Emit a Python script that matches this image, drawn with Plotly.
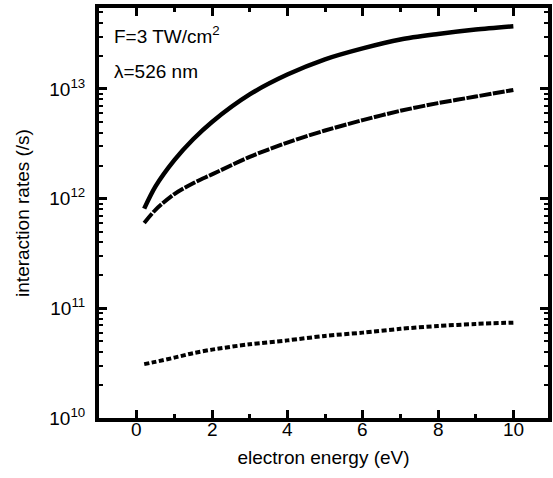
import plotly.graph_objects as go

# electron energy (eV)
energy = [0.2, 0.5, 1.0, 1.5, 2.0, 3.0, 4.0, 5.0, 6.0, 7.0, 8.0, 9.0, 10.0]

# interaction rates (/s) for the three processes
rate_top = [8.1e11, 1.29e12, 2.24e12, 3.47e12, 5.0e12, 8.9e12, 1.35e13,
            1.86e13, 2.34e13, 2.82e13, 3.16e13, 3.47e13, 3.72e13]
rate_mid = [6.0e11, 7.9e11, 1.1e12, 1.38e12, 1.66e12, 2.4e12, 3.24e12,
            4.17e12, 5.19e12, 6.31e12, 7.41e12, 8.51e12, 9.77e12]
rate_low = [3.1e10, 3.25e10, 3.55e10, 3.9e10, 4.2e10, 4.7e10, 5.1e10,
            5.6e10, 6.0e10, 6.5e10, 6.9e10, 7.2e10, 7.4e10]

x_ticks = [0, 2, 4, 6, 8, 10]
x_ticktext = ["0", "2", "4", "6", "8", "10"]
x_minor = [1, 3, 5, 7, 9]
y_ticks = [1e10, 1e11, 1e12, 1e13]
y_ticktext = ["10<sup>10</sup>", "10<sup>11</sup>", "10<sup>12</sup>", "10<sup>13</sup>"]
y_minor = [m * 10.0 ** e for e in range(10, 14) for m in range(2, 10)]

FONT = "Liberation Sans, Arial, Helvetica, sans-serif"
FS = 19

fig = go.Figure()
fig.add_trace(go.Scatter(x=energy, y=rate_top, mode="lines",
                         line=dict(color="black", width=4.5, shape="spline", smoothing=0.8),
                         showlegend=False))
fig.add_trace(go.Scatter(x=energy, y=rate_mid, mode="lines",
                         line=dict(color="black", width=4, dash="12px,1.5px", shape="spline", smoothing=0.8),
                         showlegend=False))
fig.add_trace(go.Scatter(x=energy, y=rate_low, mode="lines",
                         line=dict(color="black", width=4, dash="5px,2.5px", shape="spline", smoothing=0.8),
                         showlegend=False))

# x tick labels sit tight under the inside ticks
for xv, txt in zip(x_ticks, x_ticktext):
    fig.add_annotation(x=xv, y=0, xref="x", yref="paper", xanchor="center", yanchor="top",
                       text=txt, showarrow=False, yshift=1,
                       font=dict(family=FONT, size=FS, color="black"))

fig.add_annotation(x=0.03, y=0.934, xref="paper", yref="paper", xanchor="left", yanchor="middle",
                   text="F=3 TW/cm<sup>2</sup>", showarrow=False,
                   font=dict(family=FONT, size=FS, color="black"))
fig.add_annotation(x=0.03, y=0.846, xref="paper", yref="paper", xanchor="left", yanchor="middle",
                   text="λ=526 nm", showarrow=False,
                   font=dict(family=FONT, size=FS, color="black"))

fig.update_layout(
    width=553, height=478,
    margin=dict(l=99, r=1, t=8, b=60),
    paper_bgcolor="white", plot_bgcolor="white",
    font=dict(family=FONT, size=FS, color="black"),
    xaxis=dict(
        range=[-1, 10.92], tickvals=x_ticks, showticklabels=False,
        ticks="inside", ticklen=8, tickwidth=3,
        tickcolor="black", showline=True, linewidth=4, linecolor="black", mirror="ticks",
        showgrid=False, zeroline=False,
        minor=dict(tickvals=x_minor, ticks="inside", ticklen=4, tickwidth=3, tickcolor="black"),
        title=dict(text="electron energy (eV)", font=dict(size=FS), standoff=31),
    ),
    yaxis=dict(
        type="log", range=[10, 13.737], tickvals=y_ticks, ticktext=y_ticktext,
        ticks="inside", ticklen=8, tickwidth=3, tickcolor="black",
        showline=True, linewidth=4, linecolor="black", mirror="ticks",
        showgrid=False, zeroline=False, ticklabelstandoff=6,
        minor=dict(tickvals=y_minor, ticks="inside", ticklen=4, tickwidth=2, tickcolor="black"),
        title=dict(text="interaction rates (/s)", font=dict(size=FS), standoff=16),
        tickfont=dict(size=FS),
    ),
)

fig.write_html("out.html")
